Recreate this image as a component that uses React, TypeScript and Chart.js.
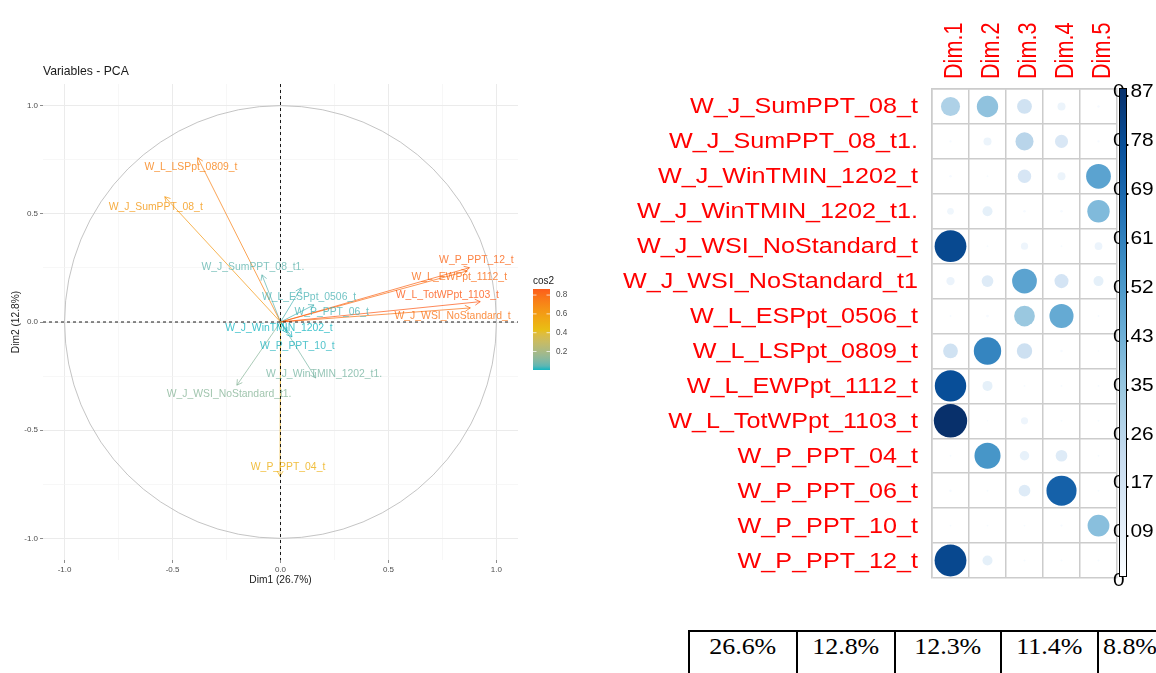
import React, { useEffect, useRef } from "react";
import { Chart, registerables } from "chart.js";

Chart.register(...registerables);

// ---------------- Left panel: PCA variables ----------------
const pcaVars = [
  "W_J_SumPPT_08_t", "W_J_SumPPT_08_t1.", "W_J_WinTMIN_1202_t", "W_J_WinTMIN_1202_t1.",
  "W_J_WSI_NoStandard_t", "W_J_WSI_NoStandard_t1.", "W_L_ESPpt_0506_t", "W_L_LSPpt_0809_t",
  "W_L_EWPpt_1112_t", "W_L_TotWPpt_1103_t", "W_P_PPT_04_t", "W_P_PPT_06_t", "W_P_PPT_10_t", "W_P_PPT_12_t",
];
const pcaDim1 = [-0.536, -0.086, 0.03, 0.163, 0.879, -0.202, 0.095, -0.383, 0.865, 0.925, -0.002, 0.155, 0.053, 0.875];
const pcaDim2 = [0.579, 0.218, -0.05, -0.259, 0.065, -0.292, 0.157, 0.759, 0.236, 0.094, -0.713, 0.079, -0.069, 0.251];
// label anchor positions (as placed by the repel step), in Dim1/Dim2 units
const labelDim1 = [-0.578, -0.128, -0.007, 0.202, 0.797, -0.238, 0.132, -0.415, 0.828, 0.773, 0.035, 0.237, 0.078, 0.907];
const labelDim2 = [0.532, 0.255, -0.029, -0.241, 0.025, -0.333, 0.114, 0.718, 0.207, 0.125, -0.671, 0.045, -0.11, 0.287];
const pcaMajorTicks = [-1, -0.5, 0, 0.5, 1];
const pcaMinorTicks = [-0.75, -0.25, 0.25, 0.75];
const cos2LegendTicks = [0.2, 0.4, 0.6, 0.8];
const pcaTitle = "Variables - PCA";
const dim1Title = "Dim1 (26.7%)";
const dim2Title = "Dim2 (12.8%)";
const legendTitle = "cos2";

// ---------------- Right panel: cos2 corrplot ----------------
const dimLabels = ["Dim.1", "Dim.2", "Dim.3", "Dim.4", "Dim.5"];
const rowLabels = [
  "W_J_SumPPT_08_t", "W_J_SumPPT_08_t1.", "W_J_WinTMIN_1202_t", "W_J_WinTMIN_1202_t1.",
  "W_J_WSI_NoStandard_t", "W_J_WSI_NoStandard_t1", "W_L_ESPpt_0506_t", "W_L_LSPpt_0809_t",
  "W_L_EWPpt_1112_t", "W_L_TotWPpt_1103_t", "W_P_PPT_04_t", "W_P_PPT_06_t", "W_P_PPT_10_t", "W_P_PPT_12_t",
];
const cos2Dim1 = [0.283, 0.004, 0.005, 0.035, 0.788, 0.054, 0.003, 0.17, 0.77, 0.87, 0.003, 0.005, 0.003, 0.79];
const cos2Dim2 = [0.356, 0.05, 0.003, 0.078, 0.003, 0.107, 0.006, 0.585, 0.078, 0.002, 0.53, 0.003, 0.003, 0.078];
const cos2Dim3 = [0.17, 0.254, 0.14, 0.005, 0.04, 0.478, 0.335, 0.184, 0.003, 0.04, 0.07, 0.107, 0.003, 0.003];
const cos2Dim4 = [0.05, 0.133, 0.05, 0.005, 0.003, 0.154, 0.452, 0.005, 0.003, 0.003, 0.107, 0.706, 0.004, 0.003];
const cos2Dim5 = [0.005, 0.004, 0.478, 0.39, 0.046, 0.078, 0.003, 0.002, 0.003, 0.003, 0.003, 0.003, 0.37, 0.003];
const cos2Max = 0.87;
const colorbarLabels = ["0", "0.09", "0.17", "0.26", "0.35", "0.43", "0.52", "0.61", "0.69", "0.78", "0.87"];
const varianceLabels = ["26.6%", "12.8%", "12.3%", "11.4%", "8.8%"];

// ---------------- helpers ----------------
const SANS = '"Liberation Sans", Arial, sans-serif';
const GRAD = ["#00AFBB", "#E7B800", "#FC4E07"];
const BLUES = ["#F7FBFF", "#DEEBF7", "#C6DBEF", "#9ECAE1", "#6BAED6", "#4292C6", "#2171B5", "#08519C", "#08306B"];

function hexRgb(h: string) {
  const n = parseInt(h.slice(1), 16);
  return [(n >> 16) & 255, (n >> 8) & 255, n & 255];
}
function ramp(stops: string[], t: number) {
  t = Math.max(0, Math.min(1, t));
  const p = t * (stops.length - 1);
  const i = Math.min(Math.floor(p), stops.length - 2);
  const f = p - i;
  const a = hexRgb(stops[i]);
  const b = hexRgb(stops[i + 1]);
  return a.map((c, k) => Math.round(c + (b[k] - c) * f));
}
// Lab interpolation (as ggplot's gradient_n_pal does)
const lin = (c: number) => {
  c /= 255;
  return c <= 0.04045 ? c / 12.92 : Math.pow((c + 0.055) / 1.055, 2.4);
};
const unlin = (c: number) => {
  const v = c <= 0.0031308 ? 12.92 * c : 1.055 * Math.pow(c, 1 / 2.4) - 0.055;
  return Math.round(Math.max(0, Math.min(1, v)) * 255);
};
const D = 6 / 29;
const fLab = (t: number) => (t > D * D * D ? Math.cbrt(t) : t / (3 * D * D) + 4 / 29);
const fInv = (t: number) => (t > D ? t * t * t : 3 * D * D * (t - 4 / 29));
function toLab(hex: string) {
  const [r, g, b] = hexRgb(hex).map(lin);
  const X = (0.4124 * r + 0.3576 * g + 0.1805 * b) / 0.95047;
  const Y = 0.2126 * r + 0.7152 * g + 0.0722 * b;
  const Z = (0.0193 * r + 0.1192 * g + 0.9505 * b) / 1.08883;
  return [116 * fLab(Y) - 16, 500 * (fLab(X) - fLab(Y)), 200 * (fLab(Y) - fLab(Z))];
}
function fromLab([L, a, b]: number[]) {
  const fy = (L + 16) / 116;
  const X = fInv(fy + a / 500) * 0.95047;
  const Y = fInv(fy);
  const Z = fInv(fy - b / 200) * 1.08883;
  const r = 3.2406 * X - 1.5372 * Y - 0.4986 * Z;
  const g = -0.9689 * X + 1.8758 * Y + 0.0415 * Z;
  const bb = 0.0557 * X - 0.204 * Y + 1.057 * Z;
  return [unlin(r), unlin(g), unlin(bb)];
}
const GRAD_LAB = GRAD.map(toLab);
function labRamp(t: number) {
  t = Math.max(0, Math.min(1, t));
  const p = t * (GRAD_LAB.length - 1);
  const i = Math.min(Math.floor(p), GRAD_LAB.length - 2);
  const f = p - i;
  const a = GRAD_LAB[i], b = GRAD_LAB[i + 1];
  return fromLab(a.map((c, k) => c + (b[k] - c) * f));
}
const rgba = (c: number[], a = 1) => `rgba(${c[0]},${c[1]},${c[2]},${a})`;

const pcaCos2 = pcaDim1.map((d, i) => d * d + pcaDim2[i] * pcaDim2[i]);
const cMin = Math.min(...pcaCos2);
const cMax = Math.max(...pcaCos2);
const cos2Color = (v: number, a = 1) => rgba(labRamp((v - cMin) / (cMax - cMin)), a);

const pcaPlugin = {
  id: "pcaDecor",
  beforeDatasetsDraw(chart: any) {
    const { ctx, scales } = chart;
    const xs = scales.x, ys = scales.y;
    const x0 = xs.getPixelForValue(0), y0 = ys.getPixelForValue(0);
    ctx.save();
    ctx.strokeStyle = "#B5B5B5";
    ctx.lineWidth = 0.8;
    ctx.beginPath();
    ctx.ellipse(x0, y0, xs.getPixelForValue(1) - x0, y0 - ys.getPixelForValue(1), 0, 0, Math.PI * 2);
    ctx.stroke();
    ctx.restore();
  },
  afterDatasetsDraw(chart: any) {
    const { ctx, chartArea: ca, scales } = chart;
    const xs = scales.x, ys = scales.y;
    const x0 = xs.getPixelForValue(0), y0 = ys.getPixelForValue(0);
    const meta = chart.getDatasetMeta(0);
    ctx.save();
    meta.data.forEach((el: any, i: number) => {
      const px = el.x, py = el.y;
      ctx.strokeStyle = cos2Color(pcaCos2[i], 0.75);
      ctx.lineWidth = 0.9;
      ctx.beginPath();
      ctx.moveTo(x0, y0);
      ctx.lineTo(px, py);
      const ang = Math.atan2(py - y0, px - x0);
      const L = 6, a = Math.PI / 6;
      ctx.moveTo(px - L * Math.cos(ang - a), py - L * Math.sin(ang - a));
      ctx.lineTo(px, py);
      ctx.lineTo(px - L * Math.cos(ang + a), py - L * Math.sin(ang + a));
      ctx.stroke();
    });
    ctx.strokeStyle = "#000";
    ctx.lineWidth = 0.9;
    ctx.setLineDash([3, 3]);
    ctx.beginPath();
    ctx.moveTo(ca.left, y0);
    ctx.lineTo(ca.right, y0);
    ctx.moveTo(x0, ca.top);
    ctx.lineTo(x0, ca.bottom);
    ctx.stroke();
    ctx.setLineDash([]);
    ctx.font = `10.4px ${SANS}`;
    ctx.textAlign = "center";
    ctx.textBaseline = "middle";
    pcaVars.forEach((name, i) => {
      ctx.fillStyle = cos2Color(pcaCos2[i], 0.75);
      ctx.fillText(name, xs.getPixelForValue(labelDim1[i]), ys.getPixelForValue(labelDim2[i]));
    });
    ctx.restore();
  },
  afterDraw(chart: any) {
    const { ctx, chartArea: ca } = chart;
    ctx.save();
    ctx.fillStyle = "#1A1A1A";
    ctx.font = `12.2px ${SANS}`;
    ctx.textAlign = "left";
    ctx.textBaseline = "middle";
    ctx.fillText(pcaTitle, ca.left, ca.top - 12);
    ctx.font = `10.2px ${SANS}`;
    ctx.textAlign = "center";
    ctx.fillText(dim1Title, (ca.left + ca.right) / 2, ca.bottom + 20);
    ctx.save();
    ctx.translate(ca.left - 27, (ca.top + ca.bottom) / 2);
    ctx.rotate(-Math.PI / 2);
    ctx.fillText(dim2Title, 0, 0);
    ctx.restore();
    // legend colorbar
    const barL = ca.right + 15, barW = 17, barH = 81;
    const barT = (ca.top + ca.bottom) / 2 - 33;
    const barB = barT + barH;
    const g = ctx.createLinearGradient(0, barB, 0, barT);
    for (let k = 0; k <= 20; k++) g.addColorStop(k / 20, rgba(labRamp(k / 20), 0.92));
    ctx.fillStyle = g;
    ctx.fillRect(barL, barT, barW, barH);
    ctx.fillStyle = "#1A1A1A";
    ctx.font = `10px ${SANS}`;
    ctx.textAlign = "left";
    ctx.fillText(legendTitle, barL, barT - 8);
    ctx.font = `8.2px ${SANS}`;
    cos2LegendTicks.forEach((v) => {
      const yy = barB - ((v - cMin) / (cMax - cMin)) * barH;
      ctx.strokeStyle = "rgba(255,255,255,0.9)";
      ctx.lineWidth = 0.8;
      ctx.beginPath();
      ctx.moveTo(barL, yy);
      ctx.lineTo(barL + 3.5, yy);
      ctx.moveTo(barL + barW - 3.5, yy);
      ctx.lineTo(barL + barW, yy);
      ctx.stroke();
      ctx.fillStyle = "#4D4D4D";
      ctx.fillText(v.toFixed(1), barL + barW + 6, yy);
    });
    ctx.restore();
  },
};

const allPcaTicks = [...pcaMajorTicks, ...pcaMinorTicks].sort((a, b) => a - b);
const isMajor = (v: number) => pcaMajorTicks.some((m) => Math.abs(m - v) < 1e-9);

function pcaAxis(kind: "x" | "y") {
  return {
    type: "linear" as const,
    min: -1.1,
    max: 1.1,
    afterBuildTicks: (s: any) => {
      s.ticks = allPcaTicks.map((v) => ({ value: v }));
    },
    afterFit: (s: any) => {
      if (kind === "x") s.height = 40;
      else s.width = 43;
    },
    ticks: {
      autoSkip: false,
      maxRotation: 0,
      padding: 2,
      color: "#4D4D4D",
      font: { size: 8, family: SANS },
      callback: (v: number) => (isMajor(v) ? v.toFixed(1) : ""),
    },
    grid: {
      color: (c: any) => (c.tick && isMajor(c.tick.value) ? "#EBEBEB" : "#F3F3F3"),
      lineWidth: (c: any) => (c.tick && isMajor(c.tick.value) ? 1 : 0.7),
      tickColor: (c: any) => (c.tick && isMajor(c.tick.value) ? "#8C8C8C" : "rgba(0,0,0,0)"),
      tickLength: 3,
    },
    border: { display: false },
  };
}

// ---------------- corrplot plugin ----------------
const corrPlugin = {
  id: "corrDecor",
  afterDraw(chart: any) {
    const { ctx, chartArea: ca, scales } = chart;
    const xs = scales.x, ys = scales.y;
    ctx.save();
    ctx.fillStyle = "#FF0000";
    ctx.font = `21.6px ${SANS}`;
    ys.getLabels().forEach((lab: string, i: number) => {
      const yy = ys.getPixelForValue(i);
      ctx.save();
      ctx.translate(ca.left - 14, yy + 7);
      ctx.scale(1.165, 1);
      ctx.textAlign = "right";
      ctx.textBaseline = "alphabetic";
      ctx.fillText(lab, 0, 0);
      ctx.restore();
    });
    xs.getLabels().forEach((lab: string, j: number) => {
      const xx = xs.getPixelForValue(j) + 2;
      ctx.save();
      ctx.translate(xx, ca.top - 10);
      ctx.rotate(-Math.PI / 2);
      ctx.scale(1, 1.17);
      ctx.textAlign = "left";
      ctx.textBaseline = "alphabetic";
      ctx.fillText(lab, 0, 7.8);
      ctx.restore();
    });
    const barL = ca.right + 2, barW = 8;
    const barT = ca.top - 1, barB = ca.bottom - 1;
    ctx.fillStyle = "#000";
    ctx.font = `19px ${SANS}`;
    colorbarLabels.forEach((lab, k) => {
      const yy = barB - (k / (colorbarLabels.length - 1)) * (barB - barT);
      ctx.save();
      ctx.translate(barL - 6, yy + 4);
      ctx.scale(1.1, 1);
      ctx.textAlign = "left";
      ctx.textBaseline = "middle";
      ctx.fillText(lab, 0, 0);
      ctx.restore();
    });
    const g = ctx.createLinearGradient(0, barB, 0, barT);
    g.addColorStop(0, "#FFFFFF");
    BLUES.forEach((c, k) => g.addColorStop(Math.max(0.02, k / (BLUES.length - 1)), c));
    ctx.fillStyle = g;
    ctx.fillRect(barL, barT, barW, barB - barT);
    ctx.strokeStyle = "#000";
    ctx.lineWidth = 1;
    ctx.strokeRect(barL + 0.5, barT + 0.5, barW - 1, barB - barT - 1);
    ctx.restore();
  },
};

const cellGrid = {
  offset: true,
  color: "#CCCCCC",
  lineWidth: 1.5,
  drawTicks: false,
};

export default function App() {
  const leftRef = useRef<HTMLCanvasElement>(null);
  const rightRef = useRef<HTMLCanvasElement>(null);

  useEffect(() => {
    const left = new Chart(leftRef.current as HTMLCanvasElement, {
      type: "scatter",
      data: {
        datasets: [
          {
            data: pcaDim1.map((x, i) => ({ x, y: pcaDim2[i] })),
            pointRadius: 0,
            pointHoverRadius: 0,
          },
        ],
      },
      options: {
        animation: false,
        responsive: false,
        events: [],
        layout: { padding: { left: 0, top: 84, right: 82, bottom: 0 } },
        plugins: { legend: { display: false }, tooltip: { enabled: false } },
        scales: { x: pcaAxis("x") as any, y: pcaAxis("y") as any },
      },
      plugins: [pcaPlugin],
    });

    const series = [cos2Dim1, cos2Dim2, cos2Dim3, cos2Dim4, cos2Dim5];
    const maxR = 16.7;
    const bubbles: any[] = [];
    series.forEach((vals, j) =>
      vals.forEach((v, i) =>
        bubbles.push({ x: dimLabels[j], y: rowLabels[i], r: maxR * Math.sqrt(v / cos2Max), v })
      )
    );
    const right = new Chart(rightRef.current as HTMLCanvasElement, {
      type: "bubble",
      data: {
        datasets: [
          {
            data: bubbles,
            borderWidth: 0,
            backgroundColor: (c: any) => rgba(ramp(BLUES, (c.raw ? c.raw.v : 0) / cos2Max)),
          } as any,
        ],
      },
      options: {
        animation: false,
        responsive: false,
        events: [],
        layout: { padding: { left: 0, top: 0, right: 39, bottom: 22 } },
        plugins: { legend: { display: false }, tooltip: { enabled: false } },
        scales: {
          x: {
            type: "category",
            labels: dimLabels,
            position: "top",
            offset: true,
            grid: cellGrid,
            border: { display: true, color: "#CCCCCC", width: 1.5 },
            ticks: { display: false },
            afterFit: (s: any) => {
              s.height = 89;
            },
          } as any,
          y: {
            type: "category",
            labels: rowLabels,
            offset: true,
            grid: cellGrid,
            border: { display: true, color: "#CCCCCC", width: 1.5 },
            ticks: { display: false },
            afterFit: (s: any) => {
              s.width = 332;
            },
          } as any,
        },
      },
      plugins: [corrPlugin],
    });
    return () => {
      left.destroy();
      right.destroy();
    };
  }, []);

  const colWidths = [106, 96, 104, 95, 62];

  return (
    <div
      style={{
        position: "absolute",
        left: 0,
        top: 0,
        width: 1156,
        height: 673,
        overflow: "hidden",
        background: "#fff",
      }}
    >
      <canvas
        ref={leftRef}
        width={600}
        height={600}
        style={{ position: "absolute", left: 0, top: 0, width: 600, height: 600 }}
      />
      <canvas
        ref={rightRef}
        width={556}
        height={600}
        style={{ position: "absolute", left: 600, top: 0, width: 556, height: 600 }}
      />
      <table
        style={{
          position: "absolute",
          left: 688,
          top: 630,
          borderCollapse: "collapse",
          tableLayout: "fixed",
          fontFamily: '"Liberation Serif", "Times New Roman", serif',
        }}
      >
        <tbody>
          <tr>
            {varianceLabels.map((t, i) => (
              <td
                key={i}
                style={{
                  width: colWidths[i],
                  minWidth: colWidths[i],
                  height: 60,
                  border: "2px solid #000",
                  padding: "2px 0 0 0",
                  verticalAlign: "top",
                  textAlign: "center",
                  fontSize: 23,
                  lineHeight: "26px",
                  color: "#000",
                }}
              >
                <span style={{ display: "inline-block", transform: "scaleX(1.13)" }}>{t}</span>
              </td>
            ))}
          </tr>
        </tbody>
      </table>
    </div>
  );
}
